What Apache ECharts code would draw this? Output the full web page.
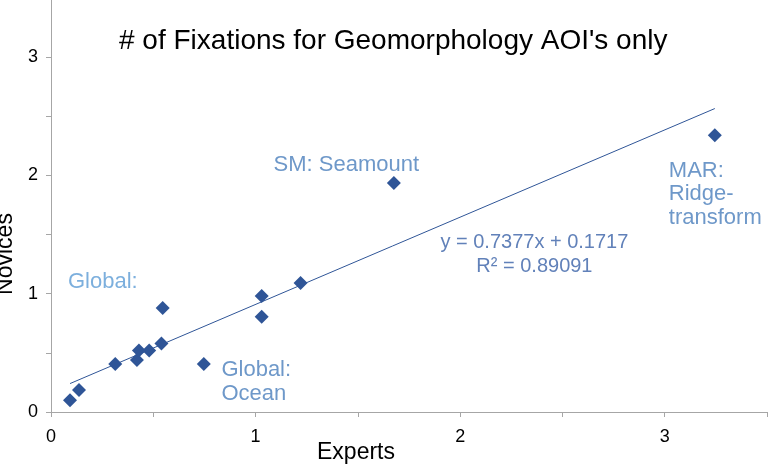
<!DOCTYPE html>
<html>
<head>
<meta charset="utf-8">
<script src="https://cdn.jsdelivr.net/npm/echarts@6/dist/echarts.min.js"></script>
<style>
  html, body { margin: 0; padding: 0; background: #fff; }
  #main { width: 770px; height: 468px; }
</style>
</head>
<body>
<div id="main"></div>
<script>
// experts vs novices, mean fixations per AOI
var experts = [0.093, 0.137, 0.314, 0.42, 0.43, 0.48, 0.54, 0.546, 0.747, 1.03, 1.03, 1.22, 1.676, 3.245];
var novices = [0.10, 0.186, 0.406, 0.44, 0.52, 0.52, 0.58, 0.88, 0.405, 0.98, 0.805, 1.09, 1.935, 2.34];

// linear trend shown in the chart
var slope = 0.7377;
var intercept = 0.1717;
var rSquared = '0.89091';

// annotation text and where it sits (data units)
var noteText = ['SM: Seamount', 'MAR:\nRidge-\ntransform', 'Global:', 'Global:\nOcean'];
var noteX = [1.088, 3.02, 0.083, 0.833];
var noteY = [2.088, 1.843, 1.099, 0.254];
var noteColor = ['#4A7EBB', '#4A7EBB', '#5B9BD5', '#4A7EBB'];

var eqX = 2.363, eqY = 1.33;

var font = 'Liberation Sans, Arial, sans-serif';

var points = experts.map(function (x, i) { return [x, novices[i]]; });
var xMin = Math.min.apply(null, experts), xMax = Math.max.apply(null, experts);
var trend = [[xMin, slope * xMin + intercept], [xMax, slope * xMax + intercept]];

var notes = noteText.map(function (t, i) {
  return {
    value: [noteX[i], noteY[i]],
    label: { formatter: t, color: noteColor[i] }
  };
});

var myChart = echarts.init(document.getElementById('main'));
var option = {
  animation: false,
  title: {
    text: "# of Fixations for Geomorphology AOI's only",
    left: 114,
    top: 22,
    textStyle: { fontFamily: font, fontSize: 28, fontWeight: 'normal', color: '#000' }
  },
  grid: { left: 51, right: 3, top: -2, bottom: 56, containLabel: false, outerBoundsMode: 'none' },
  xAxis: {
    type: 'value',
    min: 0, max: 3.5, interval: 0.5,
    name: 'Experts',
    nameLocation: 'middle',
    nameGap: 29,
    nameMoveOverlap: false,
    nameTextStyle: { fontFamily: font, fontSize: 23, color: '#000', padding: [0, 106, 0, 0] },
    axisLine: { lineStyle: { color: '#A6A6A6', width: 1 } },
    axisTick: { show: true, length: 5, lineStyle: { color: '#A6A6A6' } },
    axisLabel: {
      fontFamily: font, fontSize: 18, color: '#000', margin: 16,
      formatter: function (v) { return v % 1 === 0 ? String(v) : ''; }
    },
    splitLine: { show: false }
  },
  yAxis: {
    type: 'value',
    min: 0, max: 3.5, interval: 0.5,
    name: 'Novices',
    nameLocation: 'middle',
    nameGap: 32,
    nameTextStyle: { fontFamily: font, fontSize: 23, color: '#000', padding: [0, 98, 0, 0] },
    axisLine: { show: true, lineStyle: { color: '#A6A6A6', width: 1 } },
    axisTick: { show: true, length: 5, lineStyle: { color: '#A6A6A6' } },
    axisLabel: {
      fontFamily: font, fontSize: 18, color: '#000', margin: 13,
      formatter: function (v) { return v % 1 === 0 ? String(v) : ''; }
    },
    splitLine: { show: false }
  },
  series: [
    {
      type: 'line',
      data: trend,
      symbol: 'none',
      lineStyle: { color: '#2F5597', width: 1 },
      silent: true,
      z: 1
    },
    {
      type: 'scatter',
      data: points,
      symbol: 'diamond',
      symbolSize: 14,
      itemStyle: { color: '#2F5597', opacity: 1 },
      z: 3
    },
    {
      type: 'scatter',
      data: notes,
      symbolSize: 0,
      silent: true,
      label: {
        show: true,
        position: 'right',
        distance: 0,
        align: 'left',
        verticalAlign: 'middle',
        fontFamily: font,
        fontSize: 22,
        lineHeight: 23.5
      },
      z: 4
    },
    {
      type: 'scatter',
      data: [[eqX, eqY]],
      symbolSize: 0,
      silent: true,
      label: {
        show: true,
        position: 'inside',
        align: 'center',
        verticalAlign: 'middle',
        formatter: 'y = ' + slope + 'x + ' + intercept + '\nR² = ' + rSquared,
        fontFamily: font,
        fontSize: 20,
        lineHeight: 24,
        color: '#3A62A7'
      },
      z: 4
    }
  ]
};
myChart.setOption(option);
</script>
</body>
</html>
